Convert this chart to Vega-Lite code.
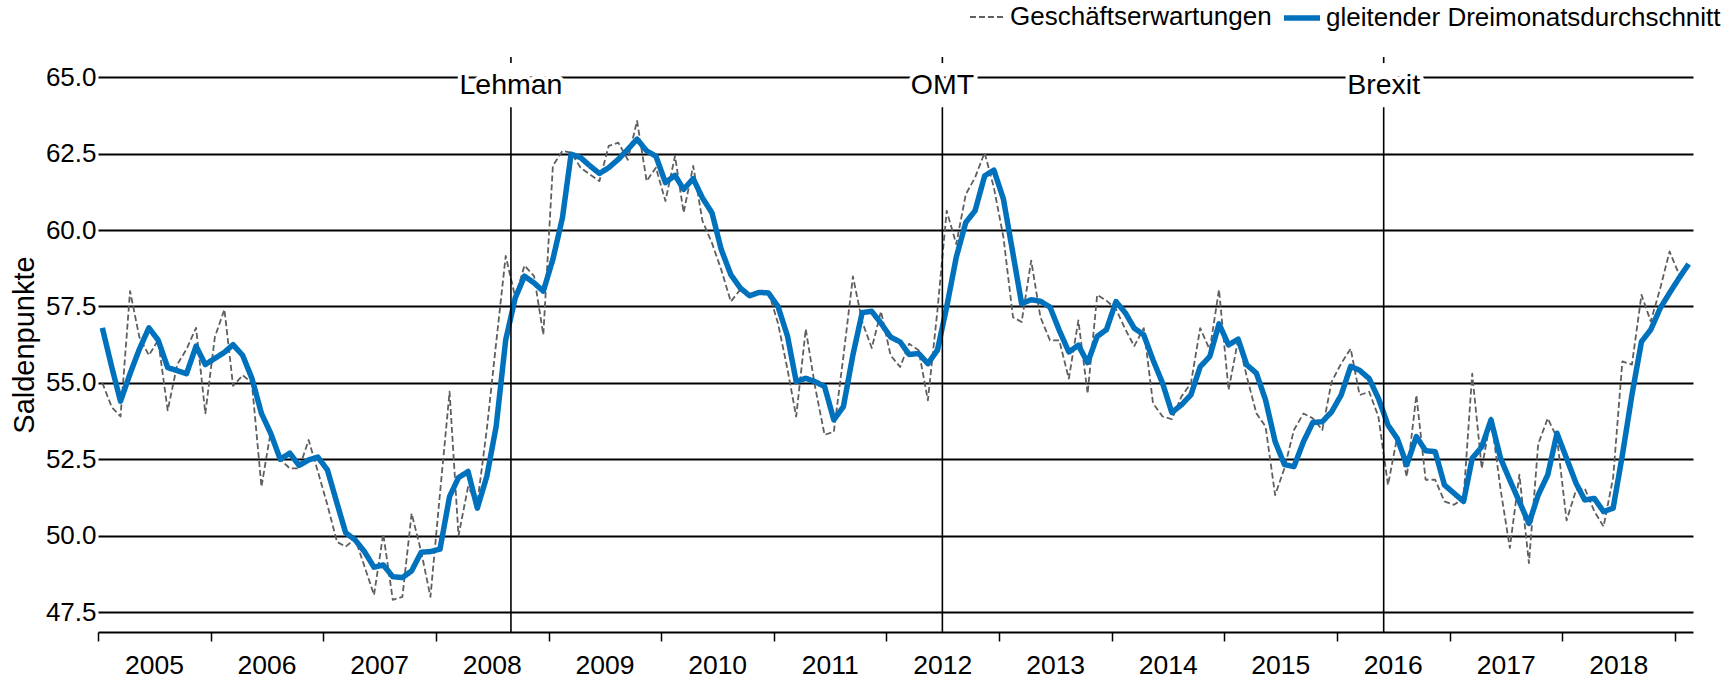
{
  "$schema": "https://vega.github.io/schema/vega-lite/v6.json",
  "width": 1595,
  "height": 575,
  "autosize": {"type": "none"},
  "padding": {"left": 98, "top": 57, "right": 33, "bottom": 48},
  "background": "white",
  "config": {"view": {"stroke": null}, "font": "Liberation Sans"},
  "encoding": {
    "x": {
      "field": "d",
      "type": "temporal",
      "scale": {"type": "utc", "domain": [{"year": 2005, "month": 1, "date": 1, "utc": true}, {"year": 2019, "month": 3, "date": 1, "utc": true}]},
      "axis": {
        "title": null,
        "values": [
          {"year": 2005, "month": 1, "date": 1, "utc": true},
          {"year": 2006, "month": 1, "date": 1, "utc": true},
          {"year": 2007, "month": 1, "date": 1, "utc": true},
          {"year": 2008, "month": 1, "date": 1, "utc": true},
          {"year": 2009, "month": 1, "date": 1, "utc": true},
          {"year": 2010, "month": 1, "date": 1, "utc": true},
          {"year": 2011, "month": 1, "date": 1, "utc": true},
          {"year": 2012, "month": 1, "date": 1, "utc": true},
          {"year": 2013, "month": 1, "date": 1, "utc": true},
          {"year": 2014, "month": 1, "date": 1, "utc": true},
          {"year": 2015, "month": 1, "date": 1, "utc": true},
          {"year": 2016, "month": 1, "date": 1, "utc": true},
          {"year": 2017, "month": 1, "date": 1, "utc": true},
          {"year": 2018, "month": 1, "date": 1, "utc": true},
          {"year": 2019, "month": 1, "date": 1, "utc": true}
        ],
        "labelExpr": "utcyear(datum.value) < 2019 ? utcFormat(datum.value, '%Y') : ''",
        "labelOffset": 56,
        "labelAlign": "center",
        "labelFlush": false,
        "labelOverlap": false,
        "labelBound": false,
        "grid": false,
        "domainColor": "black",
        "domainWidth": 2,
        "tickColor": "black",
        "tickWidth": 1.5,
        "tickSize": 9,
        "labelFontSize": 26.5,
        "labelColor": "black",
        "labelPadding": 11
      }
    }
  },
  "layer": [
    {
      "data": {"values": [
        {"d":"2005-01-15","g":55.0,"b":56.8},{"d":"2005-02-15","g":54.2,"b":55.5},{"d":"2005-03-15","g":53.9,"b":54.4},{"d":"2005-04-15","g":58.0,"b":55.3},{"d":"2005-05-15","g":56.5,"b":56.1},{"d":"2005-06-15","g":55.9,"b":56.8},{"d":"2005-07-15","g":56.4,"b":56.4},{"d":"2005-08-15","g":54.1,"b":55.5},{"d":"2005-09-15","g":55.6,"b":55.4},{"d":"2005-10-15","g":56.1,"b":55.3},{"d":"2005-11-15","g":56.8,"b":56.2},{"d":"2005-12-15","g":54.0,"b":55.6},
        {"d":"2006-01-15","g":56.5,"b":55.8},{"d":"2006-02-15","g":57.4,"b":56.0},{"d":"2006-03-15","g":54.9,"b":56.25},{"d":"2006-04-15","g":55.25,"b":55.9},{"d":"2006-05-15","g":55.0,"b":55.15},{"d":"2006-06-15","g":51.6,"b":54.0},{"d":"2006-07-15","g":53.4,"b":53.35},{"d":"2006-08-15","g":52.5,"b":52.5},{"d":"2006-09-15","g":52.2,"b":52.7},{"d":"2006-10-15","g":52.2,"b":52.3},{"d":"2006-11-15","g":53.13,"b":52.48},{"d":"2006-12-15","g":52.1,"b":52.57},
        {"d":"2007-01-15","g":51.0,"b":52.15},{"d":"2007-02-15","g":49.8,"b":51.06},{"d":"2007-03-15","g":49.64,"b":50.1},{"d":"2007-04-15","g":49.9,"b":49.86},{"d":"2007-05-15","g":49.0,"b":49.48},{"d":"2007-06-15","g":48.06,"b":48.97},{"d":"2007-07-15","g":50.06,"b":49.04},{"d":"2007-08-15","g":47.9,"b":48.66},{"d":"2007-09-15","g":48.0,"b":48.63},{"d":"2007-10-15","g":50.73,"b":48.85},{"d":"2007-11-15","g":49.48,"b":49.46},{"d":"2007-12-15","g":48.0,"b":49.48},
        {"d":"2008-01-15","g":51.39,"b":49.56},{"d":"2008-02-15","g":54.71,"b":51.28},{"d":"2008-03-15","g":50.0,"b":51.9},{"d":"2008-04-15","g":51.6,"b":52.1},{"d":"2008-05-15","g":51.06,"b":50.9},{"d":"2008-06-15","g":53.5,"b":51.95},{"d":"2008-07-15","g":56.3,"b":53.57},{"d":"2008-08-15","g":59.15,"b":56.4},{"d":"2008-09-15","g":57.8,"b":57.78},{"d":"2008-10-15","g":58.84,"b":58.49},{"d":"2008-11-15","g":58.49,"b":58.27},{"d":"2008-12-15","g":56.58,"b":58.0},
        {"d":"2009-01-15","g":62.1,"b":59.04},{"d":"2009-02-15","g":62.59,"b":60.4},{"d":"2009-03-15","g":62.53,"b":62.48},{"d":"2009-04-15","g":62.04,"b":62.37},{"d":"2009-05-15","g":61.82,"b":62.1},{"d":"2009-06-15","g":61.6,"b":61.85},{"d":"2009-07-15","g":62.75,"b":62.04},{"d":"2009-08-15","g":62.86,"b":62.31},{"d":"2009-09-15","g":62.3,"b":62.64},{"d":"2009-10-15","g":63.57,"b":62.97},{"d":"2009-11-15","g":61.6,"b":62.59},{"d":"2009-12-15","g":62.04,"b":62.42},
        {"d":"2010-01-15","g":60.95,"b":61.55},{"d":"2010-02-15","g":62.42,"b":61.79},{"d":"2010-03-15","g":60.57,"b":61.33},{"d":"2010-04-15","g":62.1,"b":61.68},{"d":"2010-05-15","g":60.3,"b":61.05},{"d":"2010-06-15","g":59.57,"b":60.56},{"d":"2010-07-15","g":58.7,"b":59.36},{"d":"2010-08-15","g":57.66,"b":58.54},{"d":"2010-09-15","g":58.05,"b":58.1},{"d":"2010-10-15","g":57.88,"b":57.85},{"d":"2010-11-15","g":57.94,"b":57.96},{"d":"2010-12-15","g":57.99,"b":57.94},
        {"d":"2011-01-15","g":56.95,"b":57.5},{"d":"2011-02-15","g":55.43,"b":56.52},{"d":"2011-03-15","g":53.9,"b":55.04},{"d":"2011-04-15","g":56.76,"b":55.15},{"d":"2011-05-15","g":54.88,"b":55.04},{"d":"2011-06-15","g":53.3,"b":54.88},{"d":"2011-07-15","g":53.4,"b":53.79},{"d":"2011-08-15","g":55.86,"b":54.22},{"d":"2011-09-15","g":58.48,"b":55.92},{"d":"2011-10-15","g":57.0,"b":57.3},{"d":"2011-11-15","g":56.14,"b":57.34},{"d":"2011-12-15","g":57.34,"b":56.95},
        {"d":"2012-01-15","g":55.9,"b":56.5},{"d":"2012-02-15","g":55.52,"b":56.34},{"d":"2012-03-15","g":56.28,"b":55.93},{"d":"2012-04-15","g":56.07,"b":55.96},{"d":"2012-05-15","g":54.43,"b":55.63},{"d":"2012-06-15","g":57.37,"b":56.07},{"d":"2012-07-15","g":60.63,"b":57.48},{"d":"2012-08-15","g":59.54,"b":59.11},{"d":"2012-09-15","g":61.17,"b":60.25},{"d":"2012-10-15","g":61.72,"b":60.63},{"d":"2012-11-15","g":62.53,"b":61.77},{"d":"2012-12-15","g":61.39,"b":61.96},
        {"d":"2013-01-15","g":59.76,"b":61.01},{"d":"2013-02-15","g":57.15,"b":59.22},{"d":"2013-03-15","g":56.99,"b":57.59},{"d":"2013-04-15","g":59.0,"b":57.72},{"d":"2013-05-15","g":57.15,"b":57.67},{"d":"2013-06-15","g":56.39,"b":57.48},{"d":"2013-07-15","g":56.39,"b":56.72},{"d":"2013-08-15","g":55.14,"b":56.01},{"d":"2013-09-15","g":57.04,"b":56.23},{"d":"2013-10-15","g":54.65,"b":55.66},{"d":"2013-11-15","g":57.88,"b":56.52},{"d":"2013-12-15","g":57.69,"b":56.74},
        {"d":"2014-01-15","g":57.41,"b":57.66},{"d":"2014-02-15","g":56.74,"b":57.28},{"d":"2014-03-15","g":56.2,"b":56.79},{"d":"2014-04-15","g":56.79,"b":56.57},{"d":"2014-05-15","g":54.33,"b":55.75},{"d":"2014-06-15","g":53.9,"b":54.99},{"d":"2014-07-15","g":53.81,"b":54.03},{"d":"2014-08-15","g":54.55,"b":54.28},{"d":"2014-09-15","g":54.99,"b":54.61},{"d":"2014-10-15","g":56.79,"b":55.53},{"d":"2014-11-15","g":56.08,"b":55.86},{"d":"2014-12-15","g":58.05,"b":56.93},
        {"d":"2015-01-15","g":54.77,"b":56.24},{"d":"2015-02-15","g":56.41,"b":56.43},{"d":"2015-03-15","g":55.21,"b":55.59},{"d":"2015-04-15","g":54.01,"b":55.32},{"d":"2015-05-15","g":53.57,"b":54.44},{"d":"2015-06-15","g":51.33,"b":53.08},{"d":"2015-07-15","g":52.2,"b":52.33},{"d":"2015-08-15","g":53.46,"b":52.26},{"d":"2015-09-15","g":54.0,"b":53.08},{"d":"2015-10-15","g":53.84,"b":53.7},{"d":"2015-11-15","g":53.46,"b":53.73},{"d":"2015-12-15","g":55.03,"b":54.05},
        {"d":"2016-01-15","g":55.63,"b":54.6},{"d":"2016-02-15","g":56.12,"b":55.54},{"d":"2016-03-15","g":54.6,"b":55.41},{"d":"2016-04-15","g":54.71,"b":55.14},{"d":"2016-05-15","g":53.89,"b":54.49},{"d":"2016-06-15","g":51.66,"b":53.62},{"d":"2016-07-15","g":53.24,"b":53.18},{"d":"2016-08-15","g":51.93,"b":52.32},{"d":"2016-09-15","g":54.6,"b":53.24},{"d":"2016-10-15","g":51.83,"b":52.78},{"d":"2016-11-15","g":51.83,"b":52.75},{"d":"2016-12-15","g":51.12,"b":51.66},
        {"d":"2017-01-15","g":51.01,"b":51.39},{"d":"2017-02-15","g":51.23,"b":51.12},{"d":"2017-03-15","g":55.3,"b":52.53},{"d":"2017-04-15","g":52.2,"b":52.91},{"d":"2017-05-15","g":53.87,"b":53.79},{"d":"2017-06-15","g":51.52,"b":52.53},{"d":"2017-07-15","g":49.6,"b":51.82},{"d":"2017-08-15","g":52.0,"b":51.11},{"d":"2017-09-15","g":49.1,"b":50.4},{"d":"2017-10-15","g":53.0,"b":51.33},{"d":"2017-11-15","g":53.84,"b":51.99},{"d":"2017-12-15","g":53.2,"b":53.35},
        {"d":"2018-01-15","g":50.5,"b":52.53},{"d":"2018-02-15","g":51.5,"b":51.71},{"d":"2018-03-15","g":51.55,"b":51.17},{"d":"2018-04-15","g":50.8,"b":51.22},{"d":"2018-05-15","g":50.3,"b":50.79},{"d":"2018-06-15","g":51.9,"b":50.9},{"d":"2018-07-15","g":55.7,"b":52.64},{"d":"2018-08-15","g":55.6,"b":54.61},{"d":"2018-09-15","g":57.88,"b":56.35},{"d":"2018-10-15","g":57.01,"b":56.74},{"d":"2018-11-15","g":58.1,"b":57.45},{"d":"2018-12-15","g":59.3,"b":57.94},
        {"d":"2019-01-15","g":58.54,"b":58.43},{"d":"2019-02-15","g":58.86,"b":58.89}
      ]},
      "transform": [{"fold": ["g", "b"], "as": ["series", "value"]}],
      "mark": {"type": "line", "strokeJoin": "round"},
      "encoding": {
        "y": {
          "field": "value",
          "type": "quantitative",
          "scale": {"domain": [46.85, 65.66], "nice": false, "zero": false},
          "axis": {
            "title": "Saldenpunkte",
            "values": [47.5, 50, 52.5, 55, 57.5, 60, 62.5, 65],
            "format": ".1f",
            "grid": true,
            "gridColor": "black",
            "gridWidth": 2,
            "gridOpacity": 1,
            "domain": false,
            "ticks": false,
            "labelFontSize": 26,
            "labelColor": "black",
            "labelPadding": 2,
            "titleFontSize": 29,
            "titleFontWeight": "normal",
            "titleColor": "black",
            "titlePadding": 6
          }
        },
        "color": {
          "field": "series", "type": "nominal",
          "scale": {"domain": ["g", "b"], "range": ["#5f5f5f", "#0071bc"]},
          "legend": {"title": null, "orient": "none", "legendX": 871, "legendY": -60, "direction": "horizontal", "symbolType": "stroke", "symbolSize": 1300, "labelFontSize": 26, "labelColor": "black", "labelLimit": 2000, "labelOffset": 3, "columnPadding": 0, "labelExpr": "datum.value == 'g' ? 'Geschäftserwartungen' : 'gleitender Dreimonatsdurchschnitt'"}
        },
        "strokeDash": {
          "field": "series", "type": "nominal",
          "scale": {"domain": ["g", "b"], "range": [[6, 3], [1, 0]]},
          "legend": {"title": null, "orient": "none", "legendX": 871, "legendY": -60, "direction": "horizontal", "symbolType": "stroke", "symbolSize": 1300, "labelFontSize": 26, "labelColor": "black", "labelLimit": 2000, "labelOffset": 3, "columnPadding": 0, "labelExpr": "datum.value == 'g' ? 'Geschäftserwartungen' : 'gleitender Dreimonatsdurchschnitt'"}
        },
        "strokeWidth": {
          "field": "series", "type": "nominal",
          "scale": {"domain": ["g", "b"], "range": [1.8, 5.5]},
          "legend": {"title": null, "orient": "none", "legendX": 871, "legendY": -60, "direction": "horizontal", "symbolType": "stroke", "symbolSize": 1300, "labelFontSize": 26, "labelColor": "black", "labelLimit": 2000, "labelOffset": 3, "columnPadding": 0, "labelExpr": "datum.value == 'g' ? 'Geschäftserwartungen' : 'gleitender Dreimonatsdurchschnitt'"}
        }
      }
    },
    {
      "data": {"name": "events", "values": [
        {"d": "2008-09-01", "label": "Lehman"},
        {"d": "2012-07-01", "label": "OMT"},
        {"d": "2016-06-01", "label": "Brexit"}
      ]},
      "layer": [
        {
          "mark": {"type": "rule", "color": "black", "strokeWidth": 1.6},
          "encoding": {"y": {"datum": 64.02, "type": "quantitative"}, "y2": {"datum": 46.85}}
        },
        {
          "mark": {"type": "rule", "color": "black", "strokeWidth": 1.6},
          "encoding": {"y": {"datum": 65.66, "type": "quantitative"}, "y2": {"datum": 65.46}}
        },
        {
          "mark": {"type": "text", "fontSize": 28.5, "baseline": "middle", "align": "center", "fill": "white", "stroke": "white", "strokeWidth": 8, "strokeJoin": "round"},
          "encoding": {"y": {"datum": 64.76, "type": "quantitative"}, "text": {"field": "label"}}
        },
        {
          "mark": {"type": "text", "fontSize": 28.5, "baseline": "middle", "align": "center", "color": "black"},
          "encoding": {"y": {"datum": 64.76, "type": "quantitative"}, "text": {"field": "label"}}
        }
      ]
    }
  ]
}
